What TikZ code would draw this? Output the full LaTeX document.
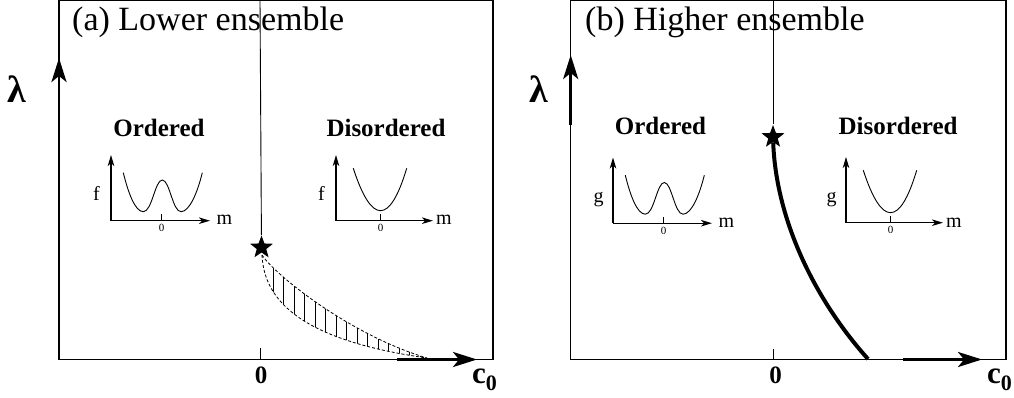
\documentclass[tikz,border=0pt]{standalone}
\usepackage{fontspec}
\setmainfont{Liberation Serif}
\usetikzlibrary{arrows.meta,shapes.geometric}
\begin{document}
\begin{tikzpicture}[x=1pt,y=-1pt,
  frame/.style={line width=1.5pt},
  thinline/.style={line width=0.9pt},
  bigarrow/.style={line width=2.8pt,-{Stealth[length=24pt,width=15pt,inset=6pt]}},
  smallaxis/.style={line width=1.1pt,-{Stealth[length=11pt,width=6.5pt,inset=3pt]}},
  curve/.style={line width=0.9pt},
  dashcurve/.style={line width=0.8pt,dash pattern=on 3pt off 2pt},
  hatch/.style={line width=1pt},
  starmark/.style={star,star points=5,star point ratio=2.4,minimum size=24pt,inner sep=0pt,fill=black,draw=none},
  title/.style={anchor=base west,inner sep=0pt,font=\fontsize{34}{40}\selectfont},
  phase/.style={anchor=base,inner sep=0pt,font=\fontsize{25}{30}\selectfont\bfseries},
  lam/.style={anchor=base,inner sep=0pt,font=\fontsize{38}{38}\selectfont\bfseries},
  zero/.style={anchor=base,inner sep=0pt,font=\fontsize{25}{25}\selectfont\bfseries},
  cnot/.style={anchor=base west,inner sep=0pt,font=\fontsize{31}{31}\selectfont\bfseries},
  axlab/.style={inner sep=0pt,font=\fontsize{20}{20}\selectfont},
  ticklab/.style={anchor=base,inner sep=0pt,font=\fontsize{11}{12}\selectfont}
]
\useasboundingbox (0,0) rectangle (1014,398);

% ================= Panel (a) =================
\draw[frame] (59,0.75) rectangle (493,359.5);
\node[title] (ta) at (72,31) {(a) Lower ensemble};
\node[lam] (la) at (16.5,103) {λ};
\node[phase] (oa) at (159,136.5) {Ordered};
\node[phase] (da) at (386,136.5) {Disordered};
\node[zero] (za) at (261,383) {0};
\node[cnot] (ca) at (472,383) {c\raisebox{-7pt}{\fontsize{22}{22}\selectfont 0}};
\node[starmark] (sa) at (261.5,247.5) {};
\coordinate (vta) at (260,0);
\draw[thinline] (vta) -- (sa);
\coordinate (tka1) at (260,348);
\coordinate (tka2) at (260,359.5);
\draw[thinline] (tka1) -- (tka2);
\coordinate (lya1) at (59,130);
\coordinate (lya2) at (59,58);
\draw[bigarrow] (lya1) -- (lya2);
\coordinate (cxa1) at (397,359.5);
\coordinate (cxa2) at (477,359.5);
\draw[bigarrow] (cxa1) -- (cxa2);
% hatched region
\coordinate (hs) at (262,255);
\coordinate (he) at (427,358);
\begin{scope}
  \clip (hs) .. controls (275,275) and (350,335) .. (he)
        .. controls (300,340) and (264,300) .. (hs) -- cycle;
  \foreach \x in {273,283.5,...,420} \draw[hatch] (\x,240) -- (\x,365);
\end{scope}
\draw[dashcurve] (hs) .. controls (275,275) and (350,335) .. (he);
\draw[dashcurve] (hs) .. controls (264,300) and (300,340) .. (he);

% insets (a)
\begin{scope}
  \coordinate (o1) at (111,220.7);
  \coordinate (y1) at (111,155);
  \coordinate (x1) at (210,220.7);
  \draw[smallaxis] (o1) -- (y1);
  \draw[smallaxis] (o1) -- (x1);
  \draw[thinline] (161.7,214) -- (161.7,220.7);
  \node[ticklab] (t1) at (161.7,231.7) {0};
  \node[axlab,anchor=base] (f1) at (96.5,200.5) {f};
  \node[axlab,anchor=base west] (m1) at (216.5,225) {m};
  \draw[curve] (123.3,172.7) .. controls (128,192) and (135,211.7) .. (143.3,211.7)
     .. controls (152,211.7) and (155,180) .. (162.3,180)
     .. controls (169.6,180) and (172.6,211.7) .. (181,211.7)
     .. controls (189.6,211.7) and (197.6,192) .. (202.3,172.7);
\end{scope}
\begin{scope}
  \coordinate (o2) at (336,220.7);
  \coordinate (y2) at (336,155);
  \coordinate (x2) at (433,220.7);
  \draw[smallaxis] (o2) -- (y2);
  \draw[smallaxis] (o2) -- (x2);
  \draw[thinline] (380.7,214) -- (380.7,220.7);
  \node[ticklab] (t2) at (380.7,231.7) {0};
  \node[axlab,anchor=base] (f2) at (321.5,200.5) {f};
  \node[axlab,anchor=base west] (m2) at (436,225) {m};
  \draw[curve] (353.3,168.3) .. controls (371.6,224.8) and (389.8,224.8) .. (406.7,168.3);
\end{scope}

% ================= Panel (b) =================
\draw[frame] (570.7,0.75) rectangle (1006,359.5);
\node[title] (tb) at (585,31) {(b) Higher ensemble};
\node[lam] (lb) at (539,103) {λ};
\node[phase] (ob) at (660.5,134.5) {Ordered};
\node[phase] (db) at (898,134.5) {Disordered};
\node[zero] (zb) at (775.5,383) {0};
\node[cnot] (cb) at (987,383) {c\raisebox{-7pt}{\fontsize{22}{22}\selectfont 0}};
\node[starmark] (sb) at (773,137) {};
\coordinate (vtb) at (773,0);
\draw[thinline] (vtb) -- (sb);
\coordinate (tkb1) at (773,349);
\coordinate (tkb2) at (773,359.5);
\draw[thinline] (tkb1) -- (tkb2);
\coordinate (lyb1) at (570.7,125);
\coordinate (lyb2) at (570.7,55);
\draw[bigarrow] (lyb1) -- (lyb2);
\coordinate (cxb1) at (903,359.5);
\coordinate (cxb2) at (982,359.5);
\draw[bigarrow] (cxb1) -- (cxb2);
\coordinate (ce) at (868,359);
\draw[line width=4pt] (sb) .. controls (776,220) and (815,300) .. (ce);

% insets (b)
\begin{scope}[shift={(502,2.5)}]
  \coordinate (o3) at (111,220.7);
  \coordinate (y3) at (111,155);
  \coordinate (x3) at (210,220.7);
  \draw[smallaxis] (o3) -- (y3);
  \draw[smallaxis] (o3) -- (x3);
  \draw[thinline] (161.7,214) -- (161.7,220.7);
  \node[ticklab] (t3) at (161.7,231.7) {0};
  \node[axlab,anchor=base] (g3) at (96.5,200.5) {g};
  \node[axlab,anchor=base west] (m3) at (216.5,225) {m};
  \draw[curve] (123.3,172.7) .. controls (128,192) and (135,211.7) .. (143.3,211.7)
     .. controls (152,211.7) and (155,180) .. (162.3,180)
     .. controls (169.6,180) and (172.6,211.7) .. (181,211.7)
     .. controls (189.6,211.7) and (197.6,192) .. (202.3,172.7);
\end{scope}
\begin{scope}[shift={(510,2)}]
  \coordinate (o4) at (336,220.7);
  \coordinate (y4) at (336,155);
  \coordinate (x4) at (433,220.7);
  \draw[smallaxis] (o4) -- (y4);
  \draw[smallaxis] (o4) -- (x4);
  \draw[thinline] (380.7,214) -- (380.7,220.7);
  \node[ticklab] (t4) at (380.7,231.7) {0};
  \node[axlab,anchor=base] (g4) at (321.5,200.5) {g};
  \node[axlab,anchor=base west] (m4) at (436,225) {m};
  \draw[curve] (353.3,168.3) .. controls (371.6,224.8) and (389.8,224.8) .. (406.7,168.3);
\end{scope}
\end{tikzpicture}
\end{document}
